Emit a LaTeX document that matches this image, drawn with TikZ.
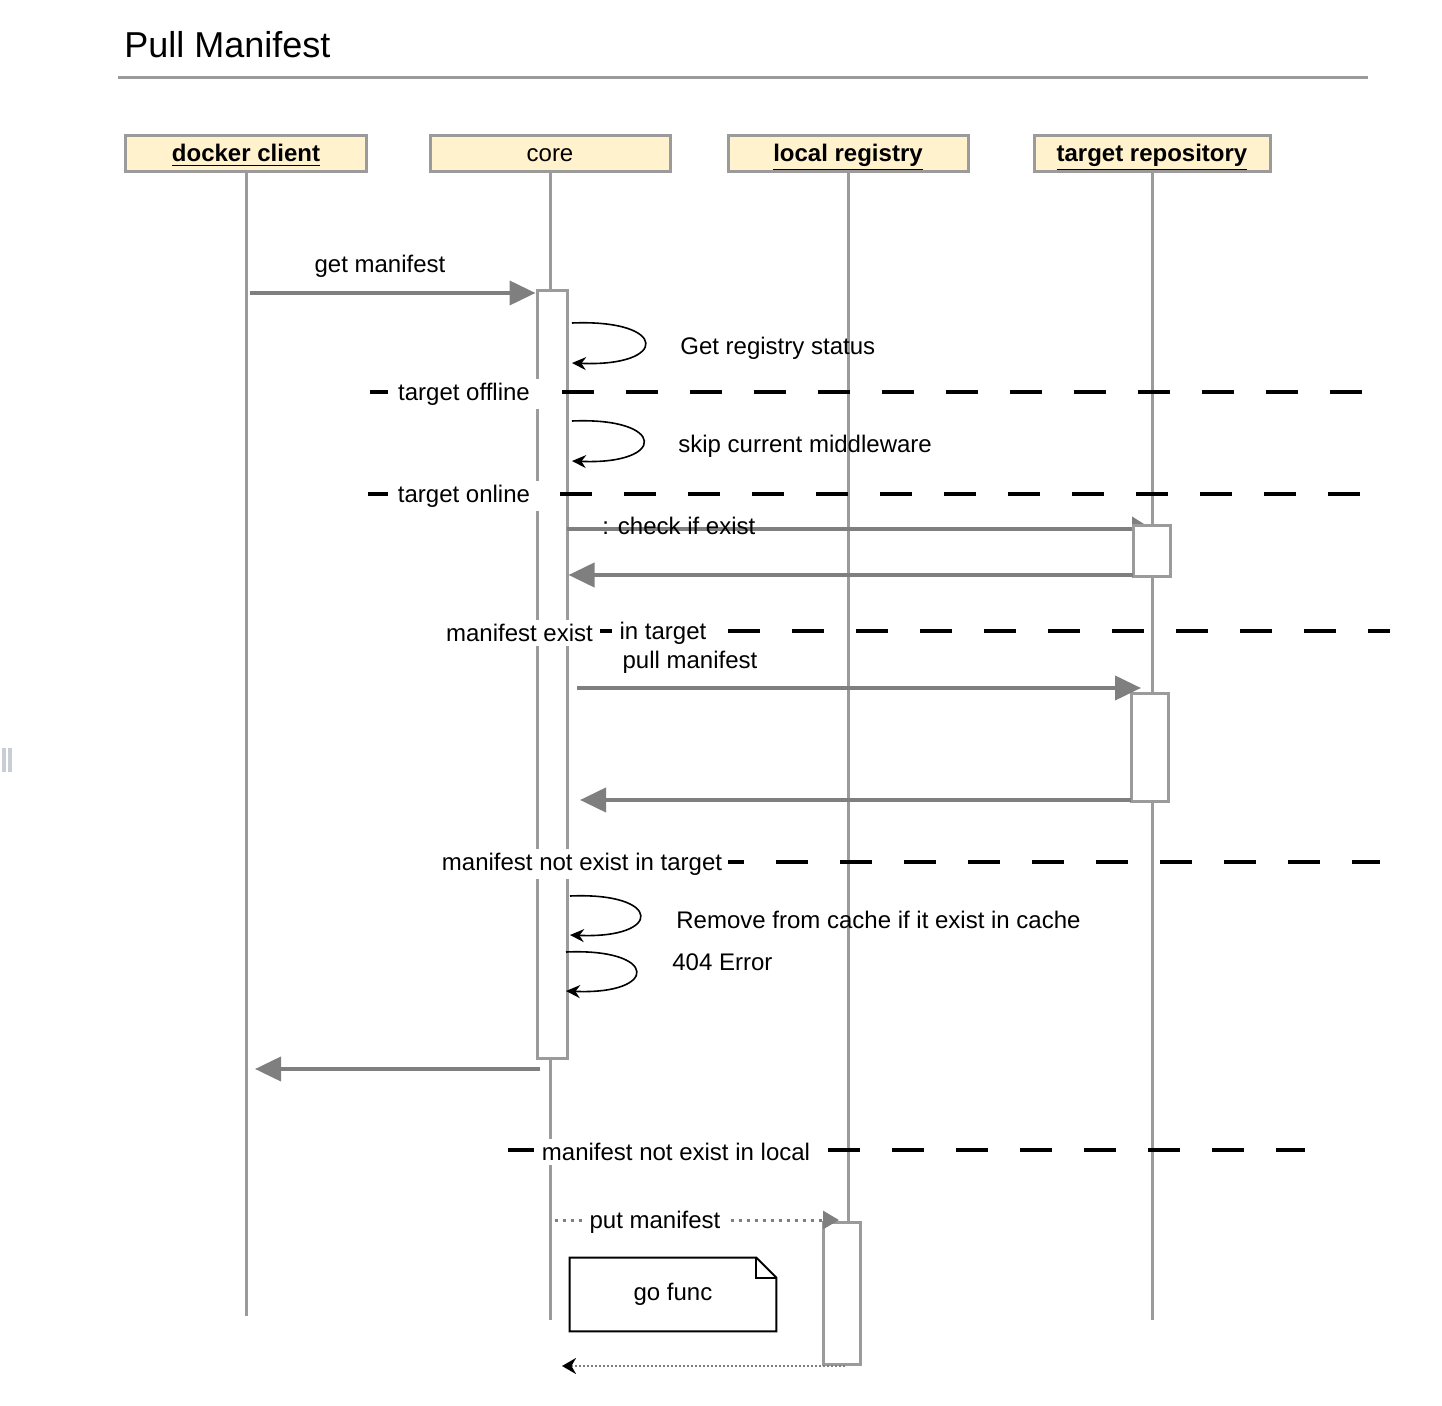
\documentclass[tikz,border=0pt]{standalone}
\usepackage{fontspec}
\setmainfont{Liberation Sans}
\usetikzlibrary{arrows.meta}
\definecolor{headfill}{HTML}{FFF2CC}
\definecolor{linegray}{HTML}{9B9B9B}
\definecolor{msggray}{HTML}{7F7F7F}
\definecolor{markgray}{HTML}{C8CDD6}
\tikzset{
	head/.style={draw=linegray,line width=1.5pt,fill=headfill,minimum height=18pt,inner sep=0pt,text height=10pt,text depth=2pt},
	life/.style={draw=linegray,line width=1.5pt},
	actbox/.style={draw=linegray,line width=1.5pt,fill=white,inner sep=0pt},
	msg/.style={draw=msggray,line width=2pt,-{Triangle[length=13pt,width=12pt]}},
	selfmsg/.style={draw=black,line width=0.8pt,-{Stealth[length=7pt,width=6.5pt]}},
	asyncmsg/.style={draw=msggray,line width=1.5pt,dash pattern=on 1.5pt off 2.5pt},
	frag/.style={draw=black,line width=2pt,dash pattern=on 16pt off 16pt},
	fraglbl/.style={fill=white,inner xsep=4pt,inner ysep=2pt},
	lbl/.style={anchor=west,inner sep=0pt}
}
\begin{document}
\begin{tikzpicture}[x=0.5pt,y=-0.5pt,font=\fontsize{12}{14}\selectfont]
		\useasboundingbox (0,0) rectangle (1442,1406);
		\fill[markgray] (2,748) rectangle (6,772);
		\fill[markgray] (8,748) rectangle (12,772);
		% title
		\node[anchor=west,inner sep=0pt,font=\fontsize{18}{21}\selectfont] (title) at (124,45) {Pull Manifest};
		\coordinate (ruleL) at (118,78);
		\coordinate (ruleR) at (1368,78);
		\draw[life] (ruleL) -- (ruleR);
%
		\node[head,minimum width=120.5pt] (client) at (246,154) {\textbf{\underline{docker client}}};
		\node[head,minimum width=120pt] (core) at (550,154) {core};
		\node[head,minimum width=120pt] (local) at (848,154) {\textbf{\underline{local registry}}};
		\node[head,minimum width=118pt] (target) at (1152,154) {\textbf{\underline{target repository}}};
		\coordinate (clientend) at (246,1316);
		\coordinate (coreend) at (550,1320);
		\coordinate (localend) at (848,1222);
		\coordinate (targetend) at (1152,1320);
		\draw[life] (client.south) -- (clientend);
		\draw[life] (core.south) -- (coreend);
		\draw[life] (local.south) -- (localend);
		\draw[life] (target.south) -- (targetend);
		\node[actbox,minimum width=15pt,minimum height=383.5pt] (corebar) at (552,674.5) {};
%
		\coordinate (gmfrom) at (250,293);
		\draw[msg] (gmfrom) -- (corebar.west |- gmfrom);
		\node (getmanifest) at (380,266) {get manifest};
		\coordinate (s1a) at (572,323);
		\coordinate (s1b) at (572,363);
		\draw[selfmsg] (s1a) .. controls (669,319) and (669,367) .. (s1b);
		\node[lbl] (getstatus) at (680,348) {Get registry status};
		\coordinate (s2a) at (572,421);
		\coordinate (s2b) at (572,461);
		\draw[selfmsg] (s2a) .. controls (667,417) and (667,465) .. (s2b);
		\node[lbl] (skipmw) at (678,446) {skip current middleware};
%
		\coordinate (chkfrom) at (567,529);
		\coordinate (chkto) at (1152,529);
		\draw[msg,-{Triangle[length=10pt,width=12pt]}] (chkfrom) -- (chkto);
		\node[lbl] (chklbl) at (602,526) {: check if exist};
		\node[actbox,minimum width=18.5pt,minimum height=25.5pt] (tgtact1) at (1151.5,551.5) {};
		\coordinate (chkback) at (1133,575);
		\draw[msg] (chkback) -- (corebar.east |- chkback);
%
		\node[actbox,minimum width=18.5pt,minimum height=54pt] (tgtact2) at (1149.5,748) {};
		\coordinate (pullfrom) at (577,688);
		\coordinate (pullto) at (1141,688);
		\draw[msg] (pullfrom) -- (pullto);
		\node (pulllbl) at (690,662) {pull manifest};
		\coordinate (pullback) at (1131,800);
		\coordinate (pullret) at (580,800);
		\draw[msg] (pullback) -- (pullret);
%
		\coordinate (s3a) at (570,896);
		\coordinate (s3b) at (570,935);
		\draw[selfmsg] (s3a) .. controls (663,892) and (663,939) .. (s3b);
		\node[lbl] (rmcache) at (676,920) {Remove from cache if it exist in cache};
		\coordinate (s4a) at (566,952);
		\coordinate (s4b) at (566,991);
		\draw[selfmsg] (s4a) .. controls (659,948) and (659,995) .. (s4b);
		\node[lbl] (err) at (672,962) {404 Error};
		\coordinate (retfrom) at (540,1069);
		\coordinate (retto) at (255,1069);
		\draw[msg] (retfrom) -- (retto);
%
		\node[actbox,minimum width=18.5pt,minimum height=71pt] (localact) at (841.5,1293) {};
		\coordinate (putfrom) at (555,1220);
		\coordinate (putto) at (839,1220);
		\draw[asyncmsg,-{Triangle[length=8pt,width=9pt]}] (putfrom) -- (putto);
		\node[fill=white,inner xsep=4pt,inner ysep=1pt] (putlbl) at (655,1222) {put manifest};
		\coordinate (putback) at (845,1366);
		\coordinate (putret) at (562,1366);
		\draw[asyncmsg,line width=1.2pt,dash pattern=on 1pt off 1pt,-{Stealth[length=7pt,width=8pt,black]}] (putback) -- (putret);
		% note
		\node[minimum width=103pt,minimum height=36.5pt,inner sep=0pt] (gofunc) at (673,1294.5) {go func};
		\draw[line width=1pt] (gofunc.south west) -- (gofunc.north west) -- ([xshift=-10pt]gofunc.north east) -- ([yshift=-10pt]gofunc.north east) -- (gofunc.south east) -- cycle;
		\draw[line width=1pt] ([xshift=-10pt]gofunc.north east) -- ([xshift=-10pt,yshift=-10pt]gofunc.north east) -- ([yshift=-10pt]gofunc.north east);
%
		\coordinate (f1a) at (370,392);
		\coordinate (f1b) at (1362,392);
		\draw[frag] (f1a) -- (f1b);
		\node[fraglbl,inner xsep=5pt] (offline) at (464,394) {target offline};
		\coordinate (f2a) at (368,494);
		\coordinate (f2b) at (1360,494);
		\draw[frag] (f2a) -- (f2b);
		\node[fraglbl,inner xsep=5pt] (online) at (464,496) {target online};
		\coordinate (f3a) at (600,631);
		\coordinate (f3b) at (1390,631);
		\draw[frag] (f3a) -- (f3b);
		\node[fraglbl,inner xsep=2pt] (mexist) at (519.5,633) {manifest exist};
		\node[fraglbl] (intarget) at (663,633) {in target};
		\coordinate (f4a) at (712,862);
		\coordinate (f4b) at (1380,862);
		\draw[frag] (f4a) -- (f4b);
		\node[fraglbl,inner xsep=3pt] (notintarget) at (582,864) {manifest not exist in target};
		\coordinate (f5a) at (508,1150);
		\coordinate (f5b) at (1305,1150);
		\draw[frag] (f5a) -- (f5b);
		\node[fraglbl] (notinlocal) at (676,1152) {manifest not exist in local};
\end{tikzpicture}
\end{document}
